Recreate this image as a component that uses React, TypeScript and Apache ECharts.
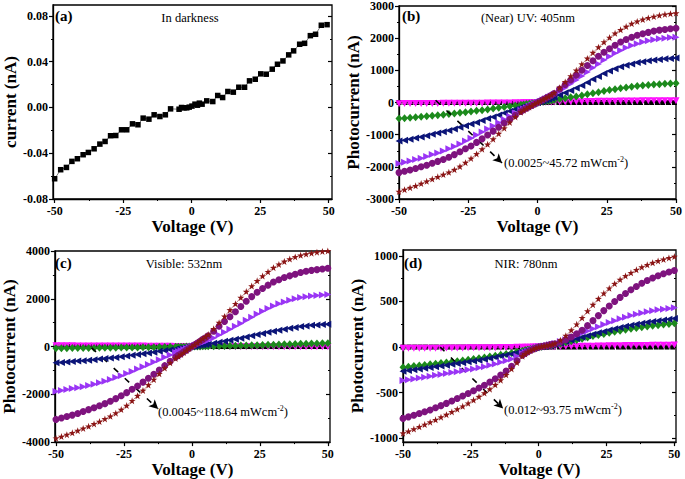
import React, { useEffect, useRef } from 'react';
import * as echarts from 'echarts';

// ---------- data ----------
// common voltage grid for panels (b)-(d)
const X = [-50, -48, -46, -44, -42, -40, -38, -36, -34, -32, -30, -28, -26, -24, -22, -20, -18, -16, -14, -12, -10, -8, -6,
  -5, -4, -3, -2, -1, 0, 1, 2, 3, 4, 5,
  6, 8, 10, 12, 14, 16, 18, 20, 22, 24, 26, 28, 30, 32, 34, 36, 38, 40, 42, 44, 46, 48, 50];

// panel (a): dark current
const XA = [-50, -47.8, -45.7, -43.7, -41.7, -39.6, -37.7, -35.6, -33.5, -31.6, -29.6, -27.7, -25.6, -23.7, -21.6, -19.6, -17.7, -15.6, -13.7, -11.6, -9.6, -7.7,
  -4.6, -3.7, -2.8, -1.8, -0.9, 0.1, 1.2, 2.1, 2.8, 3.8,
  5.5, 7.7, 9.5, 11.3, 13.2, 15.2, 17.2, 19.3, 21.1, 23.2, 25.2, 27.2, 29.4, 31.3, 33.3, 35.4, 37.2, 39.4, 41.2, 43.3, 45.2, 47.3, 49.4];
const DARK_A = [-0.0623, -0.0544, -0.0524, -0.0471, -0.0448, -0.0413, -0.0393, -0.0361, -0.032, -0.0297, -0.0247, -0.0245, -0.0195, -0.0195, -0.0143, -0.0151, -0.0093, -0.0102, -0.0064, -0.0079, -0.0064, -0.0012,
  -0.0015, 0, -0.0003, -0.0003, 0.0003, 0.0012, 0.0029, 0.002, 0.0038, 0.0029,
  0.0058, 0.0052, 0.0105, 0.0087, 0.014, 0.0134, 0.0177, 0.0177, 0.0233, 0.0247, 0.0294, 0.0291, 0.0335, 0.0378, 0.0407, 0.046, 0.0495, 0.0553, 0.0561, 0.0628, 0.064, 0.0719, 0.0724];

// panel (b): 405 nm
const MAG_B = [-35, -34, -33, -32, -31, -30, -29, -28, -27, -26, -25, -24, -23, -22, -21, -20, -19, -18, -16, -14, -12, -10, -8,
  -7, -6, -4, -3, -1, 0, 2, 4, 6, 8, 10,
  12, 15, 18, 21, 24, 27, 30, 33, 36, 38, 40, 42, 44, 46, 48, 50, 52, 53, 54, 55, 56, 57, 58];
const GREEN_B = [-500, -490, -475, -460, -445, -430, -415, -400, -380, -360, -340, -320, -300, -280, -260, -240, -215, -190, -165, -140, -120, -95, -70,
  -60, -48, -36, -24, -12, 0, 12, 25, 38, 50, 65,
  80, 105, 130, 160, 190, 220, 255, 290, 320, 355, 385, 410, 440, 465, 490, 510, 530, 545, 560, 570, 580, 590, 600];
const NAVY_B = [-1200, -1170, -1140, -1100, -1070, -1030, -990, -950, -910, -870, -820, -770, -720, -670, -620, -560, -500, -450, -390, -330, -270, -210, -150,
  -125, -100, -75, -50, -25, 0, 25, 50, 75, 100, 130,
  160, 230, 300, 370, 450, 530, 620, 720, 810, 900, 980, 1050, 1110, 1160, 1200, 1240, 1270, 1300, 1320, 1340, 1360, 1370, 1380];
const VIO_B = [-1900, -1860, -1820, -1770, -1730, -1680, -1620, -1570, -1510, -1440, -1370, -1290, -1200, -1110, -1010, -920, -820, -730, -630, -530, -430, -330, -240,
  -200, -160, -120, -80, -40, 0, 40, 80, 120, 160, 200,
  240, 350, 460, 580, 700, 820, 950, 1080, 1200, 1320, 1430, 1530, 1620, 1700, 1770, 1830, 1880, 1920, 1950, 1980, 2000, 2020, 2030];
const CIRC_B = [-2180, -2140, -2100, -2050, -2000, -1950, -1890, -1830, -1770, -1700, -1620, -1530, -1440, -1350, -1240, -1130, -1010, -890, -770, -640, -520, -400, -280,
  -225, -180, -135, -90, -45, 0, 45, 90, 135, 180, 225,
  280, 420, 560, 700, 850, 1000, 1150, 1300, 1440, 1560, 1670, 1780, 1880, 1960, 2030, 2090, 2140, 2180, 2220, 2250, 2270, 2290, 2310];
const STAR_B = [-2770, -2710, -2650, -2590, -2520, -2450, -2380, -2310, -2240, -2170, -2090, -1990, -1870, -1740, -1600, -1450, -1300, -1140, -970, -800, -620, -450, -300,
  -240, -190, -140, -95, -45, 0, 45, 95, 140, 190, 240,
  300, 460, 640, 820, 1000, 1190, 1370, 1550, 1720, 1880, 2020, 2150, 2260, 2360, 2450, 2520, 2580, 2630, 2670, 2710, 2740, 2760, 2780];

// panel (c): 532 nm
const MAG_C = [30, 30, 29, 29, 28, 28, 27, 27, 26, 25, 24, 23, 22, 21, 20, 19, 18, 16, 14, 12, 10, 8, 6,
  5, 4, 3, 2, 1, 0, -1, -1, -2, -2, -2,
  -2, -3, -3, -3, -4, -4, -4, -4, -4, -5, -5, -5, -5, -5, -5, -5, -5, -5, -5, -5, -5, -5, -5];
const GREEN_C = [-70, -68, -66, -64, -62, -60, -58, -56, -54, -52, -50, -47, -44, -41, -38, -35, -32, -29, -25, -21, -17, -13, -9,
  -8, -6, -5, -3, -2, 0, 2, 4, 6, 8, 10,
  12, 16, 20, 25, 30, 35, 41, 47, 53, 59, 65, 72, 79, 86, 93, 100, 106, 112, 118, 124, 129, 134, 140];
const NAVY_C = [-680, -665, -650, -630, -610, -590, -570, -550, -525, -505, -480, -455, -425, -395, -365, -330, -300, -265, -235, -200, -170, -135, -100,
  -85, -68, -50, -34, -17, 0, 17, 34, 50, 68, 85,
  100, 140, 180, 220, 260, 305, 350, 400, 450, 500, 545, 595, 640, 685, 725, 765, 800, 840, 865, 890, 905, 920, 930];
const VIO_C = [-1880, -1840, -1800, -1760, -1720, -1680, -1630, -1580, -1520, -1450, -1380, -1300, -1220, -1130, -1040, -940, -850, -750, -650, -550, -450, -350, -250,
  -210, -170, -125, -85, -40, 0, 40, 85, 125, 170, 210,
  250, 360, 480, 600, 720, 850, 970, 1100, 1230, 1360, 1480, 1590, 1700, 1790, 1870, 1940, 2000, 2050, 2090, 2120, 2140, 2160, 2180];
const CIRC_C = [-3050, -2990, -2930, -2870, -2800, -2720, -2640, -2560, -2480, -2390, -2290, -2180, -2060, -1930, -1790, -1650, -1490, -1330, -1160, -980, -800, -620, -450,
  -370, -300, -220, -150, -75, 0, 75, 150, 220, 300, 370,
  450, 640, 850, 1050, 1250, 1460, 1680, 1900, 2090, 2270, 2430, 2570, 2700, 2800, 2890, 2960, 3030, 3100, 3150, 3190, 3220, 3250, 3280];
const STAR_C = [-3840, -3770, -3690, -3610, -3520, -3430, -3340, -3240, -3140, -3030, -2920, -2790, -2640, -2470, -2270, -2060, -1840, -1610, -1380, -1140, -900, -680, -500,
  -410, -330, -250, -165, -80, 0, 80, 165, 250, 330, 410,
  500, 740, 1000, 1260, 1530, 1790, 2050, 2300, 2530, 2750, 2950, 3130, 3300, 3440, 3560, 3660, 3750, 3820, 3870, 3910, 3950, 3980, 4000];

// panel (d): 780 nm
const MAG_D = [-14, -14, -13, -13, -13, -12, -12, -12, -11, -11, -10, -10, -9, -9, -8, -8, -7, -7, -6, -5, -4, -3, -2,
  -2, -1, -1, 0, 0, 0, 1, 1, 2, 2, 3,
  3, 4, 5, 6, 7, 8, 9, 10, 11, 12, 13, 14, 15, 16, 16, 17, 18, 18, 19, 19, 20, 21, 22];
const GREEN_D = [-221, -215, -209, -202, -196, -190, -183, -176, -169, -162, -155, -147, -139, -131, -123, -115, -105, -95, -85, -75, -65, -52, -40,
  -33, -26, -20, -13, -6, 0, 4, 8, 13, 17, 21,
  25, 37, 50, 64, 78, 92, 106, 120, 132, 144, 156, 168, 180, 190, 200, 209, 217, 225, 233, 240, 247, 254, 260];
const NAVY_D = [-265, -257, -249, -241, -233, -225, -217, -209, -200, -190, -180, -171, -162, -153, -144, -135, -123, -111, -99, -87, -75, -60, -45,
  -37, -30, -22, -15, -7, 0, 5, 10, 15, 20, 25,
  30, 45, 60, 76, 92, 108, 124, 140, 156, 172, 186, 200, 215, 227, 239, 251, 262, 272, 281, 289, 297, 305, 312];
const VIO_D = [-366, -358, -350, -340, -330, -320, -310, -300, -290, -280, -270, -260, -250, -240, -228, -215, -200, -185, -168, -150, -130, -100, -70,
  -58, -46, -34, -22, -10, 0, 6, 12, 18, 24, 32,
  40, 60, 80, 104, 128, 152, 176, 200, 224, 248, 270, 290, 310, 328, 345, 360, 375, 388, 399, 408, 416, 424, 431];
const CIRC_D = [-783, -766, -748, -730, -710, -690, -667, -643, -618, -592, -565, -538, -510, -480, -450, -420, -385, -348, -308, -262, -210, -150, -90,
  -70, -52, -36, -22, -10, 0, 6, 12, 18, 24, 30,
  36, 55, 80, 110, 145, 185, 235, 290, 345, 400, 450, 500, 545, 588, 628, 665, 700, 730, 758, 782, 804, 823, 840];
const STAR_D = [-946, -925, -900, -875, -850, -825, -798, -770, -742, -712, -682, -650, -617, -582, -545, -505, -462, -415, -363, -305, -240, -170, -100,
  -75, -55, -38, -24, -10, 0, 6, 12, 18, 24, 30,
  40, 75, 125, 185, 250, 320, 395, 465, 530, 590, 645, 695, 740, 780, 815, 848, 877, 903, 925, 945, 962, 978, 993];

// tick labels
const X_TICKS = [-50, -25, 0, 25, 50];
const X_MINOR = [-37.5, -12.5, 12.5, 37.5];
const Y_TICKS_A = [-0.08, -0.04, 0, 0.04, 0.08];
const Y_MINOR_A = [-0.06, -0.02, 0.02, 0.06];
const Y_TICKS_B = [-3000, -2000, -1000, 0, 1000, 2000, 3000];
const Y_MINOR_B = [-2500, -1500, -500, 500, 1500, 2500];
const Y_TICKS_C = [-4000, -2000, 0, 2000, 4000];
const Y_MINOR_C = [-3000, -1000, 1000, 3000];
const Y_TICKS_D = [-1000, -500, 0, 500, 1000];
const Y_MINOR_D = [-750, -250, 250, 750];

const PANEL_TAGS = ['(a)', '(b)', '(c)', '(d)'];
const CONDITIONS = ['In darkness', '(Near) UV: 405nm', 'Visible: 532nm', 'NIR: 780nm'];
const INTENSITIES = ['', '0.0025~45.72', '0.0045~118.64', '0.012~93.75'];
// annotation arrow endpoints (data coords: [V, nA])
const ARROW_B = [[-36.8, 70], [-12.8, -1878]];
const ARROW_C = [[-36.9, -54], [-12.4, -2610]];
const ARROW_D = [[-36.3, 0], [-13.1, -674]];

// ---------- styling / layout ----------
const FONT = '"Liberation Serif", "Times New Roman", Times, serif';
const STAR_PATH = 'path://M50,0 L61.8,35.5 L100,36.2 L69.1,58.8 L80.9,95.1 L50,73 L19.1,95.1 L30.9,58.8 L0,36.2 L38.2,35.5 Z';

const LAYOUT = [
  { left: 53, top: 5, width: 279, height: 194, xMin: -50.6, xMax: 51.2, yMin: -0.08, yMax: 0.0896, yGap: 31, digits: 2,
    tag: [55, 16], cond: [190, 18], note: null as null | number[] },
  { left: 399, top: 5, width: 279, height: 194, xMin: -50, xMax: 50, yMin: -3000, yMax: 3000, yGap: 34, digits: 0,
    tag: [402, 16], cond: [528, 18], note: [504, 163] },
  { left: 53, top: 251, width: 277, height: 195, xMin: -50.4, xMax: 50.8, yMin: -4000, yMax: 4000, yGap: 36, digits: 0,
    tag: [55, 263], cond: [184, 264], note: [158, 412] },
  { left: 403, top: 250, width: 273, height: 194, xMin: -50, xMax: 50.6, yMin: -1043, yMax: 1065, yGap: 33, digits: 0,
    tag: [404, 263], cond: [526, 264], note: [504, 410] },
];

const Y_TICKS = [Y_TICKS_A, Y_TICKS_B, Y_TICKS_C, Y_TICKS_D];
const Y_MINORS = [Y_MINOR_A, Y_MINOR_B, Y_MINOR_C, Y_MINOR_D];
const Y_NAMES = ['current (nA)', 'Photocurrent (nA)', 'Photocurrent (nA)', 'Photocurrent (nA)'];
const ARROWS = [null, ARROW_B, ARROW_C, ARROW_D];

type SeriesSpec = { xs: number[]; ys: number[]; symbol: string; color: string; size: number | number[]; rotate?: number };

function photoSeries(mag: number[], green: number[], navy: number[], vio: number[], circ: number[], star: number[]): SeriesSpec[] {
  return [
    { xs: XA, ys: DARK_A, symbol: 'rect', color: '#000000', size: 5 },
    { xs: X, ys: mag, symbol: 'triangle', color: '#ff10ff', size: 7, rotate: 180 },
    { xs: X, ys: green, symbol: 'diamond', color: '#1c8a1c', size: [7, 8] },
    { xs: X, ys: navy, symbol: 'triangle', color: '#0b1478', size: 7, rotate: 90 },
    { xs: X, ys: vio, symbol: 'triangle', color: '#9a35f5', size: 7, rotate: -90 },
    { xs: X, ys: circ, symbol: 'circle', color: '#7e137e', size: 7 },
    { xs: X, ys: star, symbol: STAR_PATH, color: '#8a1414', size: 7 },
  ];
}

const PANEL_SERIES: SeriesSpec[][] = [
  [{ xs: XA, ys: DARK_A, symbol: 'rect', color: '#000000', size: 5.5 }],
  photoSeries(MAG_B, GREEN_B, NAVY_B, VIO_B, CIRC_B, STAR_B),
  photoSeries(MAG_C, GREEN_C, NAVY_C, VIO_C, CIRC_C, STAR_C),
  photoSeries(MAG_D, GREEN_D, NAVY_D, VIO_D, CIRC_D, STAR_D),
];

function buildOption() {
  const grid: any[] = [];
  const xAxis: any[] = [];
  const yAxis: any[] = [];
  const series: any[] = [];
  const graphic: any[] = [];
  const labelStyle = { color: '#000', fontFamily: FONT, fontWeight: 'bold', fontSize: 12 };

  LAYOUT.forEach((L, gi) => {
    grid.push({ left: L.left, top: L.top, width: L.width, height: L.height, show: true, borderColor: '#000', borderWidth: 1.3, containLabel: false });
    const xi = xAxis.length;
    xAxis.push({
      gridIndex: gi, type: 'value', position: 'bottom', min: L.xMin, max: L.xMax,
      axisLine: { show: true, onZero: false, lineStyle: { color: '#000', width: 1.3 } },
      axisTick: { show: true, inside: false, length: 4, lineStyle: { color: '#000', width: 1.2 }, customValues: X_TICKS },
      axisLabel: { ...labelStyle, margin: 6, customValues: X_TICKS, formatter: (v: number) => String(Math.round(v)) },
      splitLine: { show: false },
      name: 'Voltage (V)', nameLocation: 'middle', nameGap: 16,
      nameTextStyle: { color: '#000', fontFamily: FONT, fontWeight: 'bold', fontSize: 17, verticalAlign: 'top' },
    });
    xAxis.push({
      gridIndex: gi, type: 'value', position: 'bottom', min: L.xMin, max: L.xMax,
      axisLine: { show: false, onZero: false },
      axisTick: { show: true, inside: false, length: 2, lineStyle: { color: '#000', width: 1 }, customValues: X_MINOR },
      axisLabel: { show: false }, splitLine: { show: false },
    });
    const yi = yAxis.length;
    const digits = L.digits;
    yAxis.push({
      gridIndex: gi, type: 'value', position: 'left', min: L.yMin, max: L.yMax,
      axisLine: { show: true, onZero: false, lineStyle: { color: '#000', width: 1.3 } },
      axisTick: { show: true, inside: false, length: 4, lineStyle: { color: '#000', width: 1.2 }, customValues: Y_TICKS[gi] },
      axisLabel: { ...labelStyle, margin: 5, customValues: Y_TICKS[gi], formatter: (v: number) => v.toFixed(digits) },
      splitLine: { show: false },
      name: Y_NAMES[gi], nameLocation: 'middle', nameGap: L.yGap, nameRotate: 90,
      nameTextStyle: { color: '#000', fontFamily: FONT, fontWeight: 'bold', fontSize: 17 },
    });
    yAxis.push({
      gridIndex: gi, type: 'value', position: 'left', min: L.yMin, max: L.yMax,
      axisLine: { show: false, onZero: false },
      axisTick: { show: true, inside: false, length: 2, lineStyle: { color: '#000', width: 1 }, customValues: Y_MINORS[gi] },
      axisLabel: { show: false }, splitLine: { show: false },
    });
    yAxis.push({
      gridIndex: gi, type: 'value', position: 'right', min: L.yMin, max: L.yMax,
      axisLine: { show: false, onZero: false },
      axisTick: { show: true, inside: true, length: 4, lineStyle: { color: '#000', width: 1.2 }, customValues: Y_TICKS[gi] },
      axisLabel: { show: false }, splitLine: { show: false },
    });
    yAxis.push({
      gridIndex: gi, type: 'value', position: 'right', min: L.yMin, max: L.yMax,
      axisLine: { show: false, onZero: false },
      axisTick: { show: true, inside: true, length: 2, lineStyle: { color: '#000', width: 1 }, customValues: Y_MINORS[gi] },
      axisLabel: { show: false }, splitLine: { show: false },
    });

    PANEL_SERIES[gi].forEach((s, si) => {
      const item: any = {
        type: 'line', xAxisIndex: xi, yAxisIndex: yi,
        data: s.xs.map((x, i) => [x, s.ys[i]]),
        symbol: s.symbol, symbolSize: s.size, symbolRotate: s.rotate || 0, showSymbol: true,
        itemStyle: { color: s.color, borderWidth: 0 },
        lineStyle: { color: s.color, width: 0.8, opacity: 0.65 },
        z: 2 + si,
        silent: true,
      };
      const arrow = ARROWS[gi];
      if (si === 0 && arrow) {
        item.markLine = {
          silent: true, animation: false,
          symbol: ['none', 'arrow'], symbolSize: [7, 9],
          lineStyle: { color: '#000', width: 1.6, type: [6, 9] },
          label: { show: false },
          data: [[{ coord: arrow[0] }, { coord: arrow[1] }]],
        };
      }
      series.push(item);
    });

    graphic.push({
      type: 'text', x: L.tag[0], y: L.tag[1], z: 100,
      style: { text: PANEL_TAGS[gi], fill: '#000', font: `bold 15px ${FONT}`, verticalAlign: 'middle', align: 'left' },
    });
    graphic.push({
      type: 'text', x: L.cond[0], y: L.cond[1], z: 100,
      style: { text: CONDITIONS[gi], fill: '#000', font: `12.5px ${FONT}`, verticalAlign: 'middle', align: 'center' },
    });
    if (L.note) {
      graphic.push({
        type: 'text', x: L.note[0], y: L.note[1], z: 100,
        style: {
          text: `{a|(${INTENSITIES[gi]} mWcm}{s|-2}{a|)}`,
          verticalAlign: 'middle', align: 'left',
          rich: {
            a: { fontFamily: FONT, fontSize: 12.5, fill: '#000', color: '#000' },
            s: { fontFamily: FONT, fontSize: 8, fill: '#000', color: '#000', padding: [0, 0, 7, 0] },
          },
        },
      });
    }
  });

  return {
    animation: false,
    backgroundColor: '#ffffff',
    grid, xAxis, yAxis, series, graphic,
  };
}

export default function App() {
  const ref = useRef<HTMLDivElement>(null);
  useEffect(() => {
    document.body.style.margin = '0';
    if (!ref.current) return;
    const chart = echarts.init(ref.current, null, { renderer: 'svg' });
    chart.setOption(buildOption() as any);
    return () => chart.dispose();
  }, []);
  return <div ref={ref} style={{ position: 'absolute', left: 0, top: 0, width: 685, height: 479, background: '#fff' }} />;
}
